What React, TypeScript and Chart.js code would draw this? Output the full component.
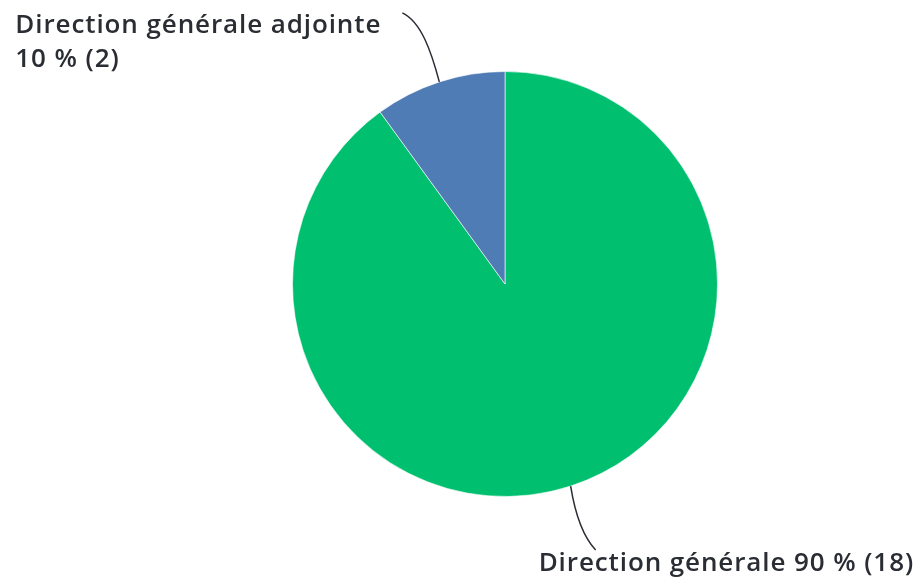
import React, { useEffect, useRef } from "react";
import { Chart, registerables } from "chart.js";

Chart.register(...registerables);

const categories = ["Direction générale", "Direction générale adjointe"];
const counts = [18, 2];
const percents = [90, 10];
const colors = ["#00BF6F", "#507CB6"];

const FONT = "600 26px 'Open Sans'";
const LETTER_SPACING = "0.9px";
const TEXT_COLOR = "#2a2d33";

const labelPlugin = {
  id: "leaderLabels",
  afterDatasetsDraw(chart: any) {
    const ctx = chart.ctx;
    const meta = chart.getDatasetMeta(0);
    ctx.save();
    ctx.font = FONT;
    (ctx as any).letterSpacing = LETTER_SPACING;
    ctx.fillStyle = TEXT_COLOR;
    ctx.strokeStyle = "#2a2d33";
    ctx.lineWidth = 1.5;
    meta.data.forEach((arc: any, i: number) => {
      const p = arc.getProps(["x", "y", "startAngle", "endAngle", "outerRadius"], true);
      const mid = (p.startAngle + p.endAngle) / 2;
      const ax = p.x + Math.cos(mid) * p.outerRadius;
      const ay = p.y + Math.sin(mid) * p.outerRadius;
      if (i === 1) {
        const ex = ax - 37, ey = ay - 69;
        ctx.beginPath();
        ctx.moveTo(ax, ay);
        ctx.bezierCurveTo(ax - 8, ay - 30, ax - 18, ay - 60, ex, ey);
        ctx.stroke();
        const line1 = categories[i];
        const line2 = `${percents[i]} % (${counts[i]})`;
        const w = ctx.measureText(line1).width;
        const left = ex - 21 - w;
        ctx.textAlign = "left";
        ctx.textBaseline = "alphabetic";
        ctx.fillText(line1, left, ey + 20);
        ctx.fillText(line2, left, ey + 54);
      } else {
        const ex = ax + 25, ey = ay + 64;
        ctx.beginPath();
        ctx.moveTo(ax, ay);
        ctx.bezierCurveTo(ax + 4, ay + 25, ax + 12, ay + 50, ex, ey);
        ctx.stroke();
        ctx.textAlign = "left";
        ctx.textBaseline = "alphabetic";
        ctx.fillText(`${categories[i]} ${percents[i]} % (${counts[i]})`, ex - 57, ey + 21);
      }
    });
    ctx.restore();
  },
};

export default function App() {
  const ref = useRef<HTMLCanvasElement>(null);
  useEffect(() => {
    if (!ref.current) return;
    const chart = new Chart(ref.current, {
      type: "pie",
      data: {
        labels: categories,
        datasets: [
          {
            data: counts,
            backgroundColor: colors,
            borderColor: "rgba(255,255,255,0.6)",
            borderWidth: 1,
          },
        ],
      },
      options: {
        responsive: false,
        animation: false,
        layout: { padding: { top: 71, bottom: 80, left: 292, right: 203 } },
        plugins: {
          legend: { display: false },
          tooltip: { enabled: false },
        },
      },
      plugins: [labelPlugin],
    });
    return () => chart.destroy();
  }, []);
  return (
    <div style={{ position: "fixed", left: 0, top: 0, width: 921, height: 577, background: "#fff" }}>
      <canvas ref={ref} width={921} height={577} />
    </div>
  );
}
